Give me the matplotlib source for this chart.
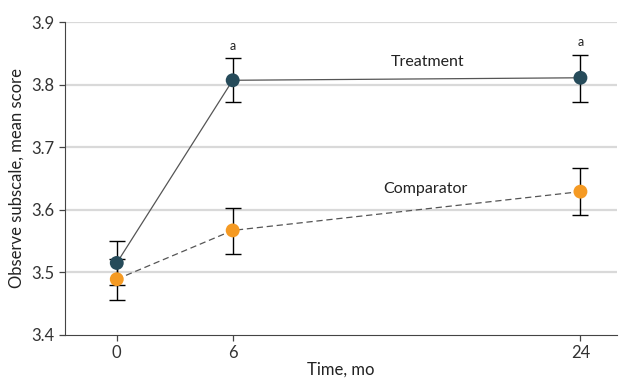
import matplotlib
matplotlib.use('Agg')
import matplotlib.pyplot as plt

# data
months = [0, 6, 24]
treat_mean = [3.515, 3.807, 3.811]
treat_lo = [3.480, 3.772, 3.773]
treat_hi = [3.550, 3.843, 3.848]
comp_mean = [3.489, 3.567, 3.629]
comp_lo = [3.456, 3.530, 3.592]
comp_hi = [3.522, 3.603, 3.666]
sig_marks = ['', 'a', 'a']

plt.rcParams['font.family'] = ['Lato', 'DejaVu Sans']

fig = plt.figure(figsize=(6.19, 3.81), dpi=100)
ax = fig.add_axes([0.105, 0.121, 0.892, 0.821])

teal = '#264b5a'
orange = '#f59a23'

def err(mean, lo, hi):
    return [[m - l for m, l in zip(mean, lo)], [h - m for m, h in zip(mean, hi)]]

ax.errorbar(months, treat_mean, yerr=err(treat_mean, treat_lo, treat_hi), fmt='none',
            ecolor='black', elinewidth=1, capsize=6, capthick=1, zorder=3)
ax.errorbar(months, comp_mean, yerr=err(comp_mean, comp_lo, comp_hi), fmt='none',
            ecolor='black', elinewidth=1, capsize=6, capthick=1, zorder=3)
ax.plot(months, treat_mean, color='#555555', lw=0.9, zorder=2)
ax.plot(months, comp_mean, color='#555555', lw=0.9, ls=(0, (5, 3)), zorder=2)
ax.scatter(months, treat_mean, s=100, color=teal, zorder=4, edgecolors='none')
ax.scatter(months, comp_mean, s=100, color=orange, zorder=4, edgecolors='none')

for x, hi, m in zip(months, treat_hi, sig_marks):
    if m:
        ax.text(x, hi + 0.01, m, ha='center', va='bottom', fontsize=9, color='#222222')

ax.text(16.1, 3.836, 'Treatment', ha='center', va='center', fontsize=11.5, color='#222222')
ax.text(16.0, 3.634, 'Comparator', ha='center', va='center', fontsize=11.5, color='#222222')

ax.set_xlim(-2.68, 25.9)
ax.set_ylim(3.4, 3.9)
ax.set_xticks(months)
ax.set_xticklabels([str(m) for m in months])
ax.set_yticks([3.4, 3.5, 3.6, 3.7, 3.8, 3.9])
ax.set_yticklabels(['3.4', '3.5', '3.6', '3.7', '3.8', '3.9'])
for y in [3.5, 3.6, 3.7, 3.8, 3.9]:
    ax.axhline(y, color='#d9d9d9', lw=1.6, zorder=0)

ax.spines['top'].set_visible(False)
ax.spines['right'].set_visible(False)
ax.spines['left'].set_color('#444444')
ax.spines['bottom'].set_color('#444444')
ax.tick_params(axis='both', labelsize=12, colors='#444444', labelcolor='#333333', length=4, width=0.9)
ax.tick_params(axis='x', pad=3)
ax.set_xlabel('Time, mo', fontsize=12, color='#222222', labelpad=1)
ax.set_ylabel('Observe subscale, mean score', fontsize=12, color='#222222', labelpad=5)

fig.savefig('out.png', dpi=100)
